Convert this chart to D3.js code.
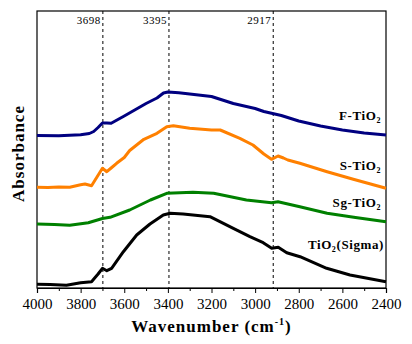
<!DOCTYPE html>
<html><head><meta charset="utf-8">
<script src="https://cdn.jsdelivr.net/npm/d3@7"></script>
<style>body{margin:0;background:#fff}svg{display:block}</style>
</head><body><svg id="c" width="412" height="344"></svg>
<script>
// Data (absorbance, arbitrary units)
const fWn = [4000,3900,3850,3800,3760,3740,3720,3700,3680,3660,3600,3500,3450,3420,3400,3350,3300,3200,3100,3000,2960,2920,2880,2800,2700,2600,2500,2400];
const fAbs = [1.525,1.522,1.528,1.532,1.545,1.565,1.605,1.65,1.65,1.647,1.72,1.845,1.90,1.95,1.96,1.952,1.94,1.915,1.845,1.795,1.765,1.745,1.725,1.67,1.62,1.58,1.55,1.53];
const sWn = [4000,3950,3900,3850,3800,3780,3750,3725,3700,3680,3660,3635,3600,3575,3510,3450,3405,3375,3300,3200,3160,3070,3010,2960,2925,2895,2870,2850,2795,2670,2550,2400];
const sAbs = [1.007,1.005,1.01,1.008,1.033,1.04,1.023,1.11,1.197,1.163,1.20,1.247,1.305,1.375,1.487,1.547,1.613,1.623,1.597,1.58,1.58,1.497,1.43,1.34,1.287,1.32,1.30,1.28,1.247,1.163,1.087,0.997];
const sgWn = [4000,3920,3850,3765,3700,3665,3575,3480,3405,3285,3190,3040,2925,2895,2795,2670,2540,2400];
const sgAbs = [0.64,0.635,0.627,0.653,0.695,0.707,0.78,0.88,0.947,0.957,0.947,0.88,0.853,0.863,0.813,0.747,0.705,0.663];
const tWn = [4000,3940,3865,3800,3750,3720,3700,3680,3658,3604,3543,3482,3421,3390,3330,3207,3100,3024,2963,2924,2894,2855,2794,2672,2565,2400];
const tAbs = [0.037,0.035,0.027,0.053,0.063,0.14,0.197,0.173,0.197,0.363,0.53,0.64,0.73,0.747,0.74,0.713,0.597,0.513,0.453,0.397,0.407,0.353,0.313,0.197,0.13,0.063];
const seriesNames = ["F-TiO2","S-TiO2","Sg-TiO2","TiO2(Sigma)"];
const seriesColors = ["#000080","#ff8000","#008000","#000000"];
const peakLines = [3698,3395,2917];
const majorTicks = [4000,3800,3600,3400,3200,3000,2800,2600,2400];
const minorTicks = [3900,3700,3500,3300,3100,2900,2700,2500];

const series = [
  {wn:fWn, abs:fAbs}, {wn:sWn, abs:sAbs}, {wn:sgWn, abs:sgAbs}, {wn:tWn, abs:tAbs}
];

const svg = d3.select("#c");
const L=37, R=386, T=11, B=288;
const x = d3.scaleLinear().domain([4000,2400]).range([L,R]);
const y = d3.scaleLinear().domain([0,2.77]).range([B,T]);
const serif = "'Liberation Serif','Times New Roman',serif";

// frame
svg.append("rect").attr("x",L).attr("y",T).attr("width",R-L).attr("height",B-T)
  .attr("fill","none").attr("stroke","#000").attr("stroke-width",1.2);

// dashed peak lines
peakLines.forEach(p=>{
  svg.append("line").attr("x1",x(p)).attr("x2",x(p)).attr("y1",T).attr("y2",B)
    .attr("stroke","#000").attr("stroke-width",1).attr("stroke-dasharray","3,3");
  svg.append("text").attr("x",x(p)-2).attr("y",24).attr("text-anchor","end")
    .attr("font-family",serif).attr("font-size",11).attr("letter-spacing",0.5).text(p);
});

// lines
const line = d3.line().x(d=>x(d[0])).y(d=>y(d[1]));
series.forEach((s,i)=>{
  const pts = s.wn.map((w,j)=>[w,s.abs[j]]);
  svg.append("path").datum(pts).attr("d",line).attr("fill","none")
    .attr("stroke",seriesColors[i]).attr("stroke-width",3).attr("stroke-linejoin","round");
});

// axes
const ax = svg.append("g").attr("transform",`translate(0,${B})`)
  .call(d3.axisBottom(x).tickValues(majorTicks).tickSize(5).tickPadding(5).tickFormat(d3.format("d")));
ax.select(".domain").attr("stroke-width",1.2);
ax.selectAll("text").attr("font-family",serif).attr("font-size",15).attr("fill","#000");
const axm = svg.append("g").attr("transform",`translate(0,${B})`)
  .call(d3.axisBottom(x).tickValues(minorTicks).tickSize(3).tickFormat(""));
axm.select(".domain").remove();

// series labels
const labs = [
  {x:381,y:123,parts:[["F-TiO",0],["2",1]]},
  {x:381,y:173,parts:[["S-TiO",0],["2",1]]},
  {x:381,y:210,parts:[["Sg-TiO",0],["2",1]]},
  {x:384,y:252,parts:[["TiO",0],["2",1],["(Sigma)",0]]}
];
labs.forEach(l=>{
  const t = svg.append("text").attr("x",l.x).attr("y",l.y).attr("text-anchor","end")
    .attr("font-family",serif).attr("font-size",13).attr("font-weight","bold").attr("letter-spacing",0.6);
  l.parts.forEach(p=>{
    if(p[1]) t.append("tspan").attr("font-size",8).attr("dy",3).text(p[0]);
    else t.append("tspan").attr("dy", t.selectAll("tspan").size()>0 ? -3 : 0).text(p[0]);
  });
});

// axis titles
const xt = svg.append("text").attr("x",(L+R)/2).attr("y",332).attr("text-anchor","middle")
  .attr("font-family",serif).attr("font-size",17).attr("font-weight","bold").attr("letter-spacing",1);
xt.append("tspan").text("Wavenumber (cm");
xt.append("tspan").attr("font-size",10).attr("dy",-7).text("-1");
xt.append("tspan").attr("dy",7).text(")");

svg.append("text").attr("transform",`translate(24,${(T+B)/2+4}) rotate(-90)`).attr("text-anchor","middle")
  .attr("font-family",serif).attr("font-size",17).attr("font-weight","bold").attr("letter-spacing",1)
  .text("Absorbance");
</script></body></html>
